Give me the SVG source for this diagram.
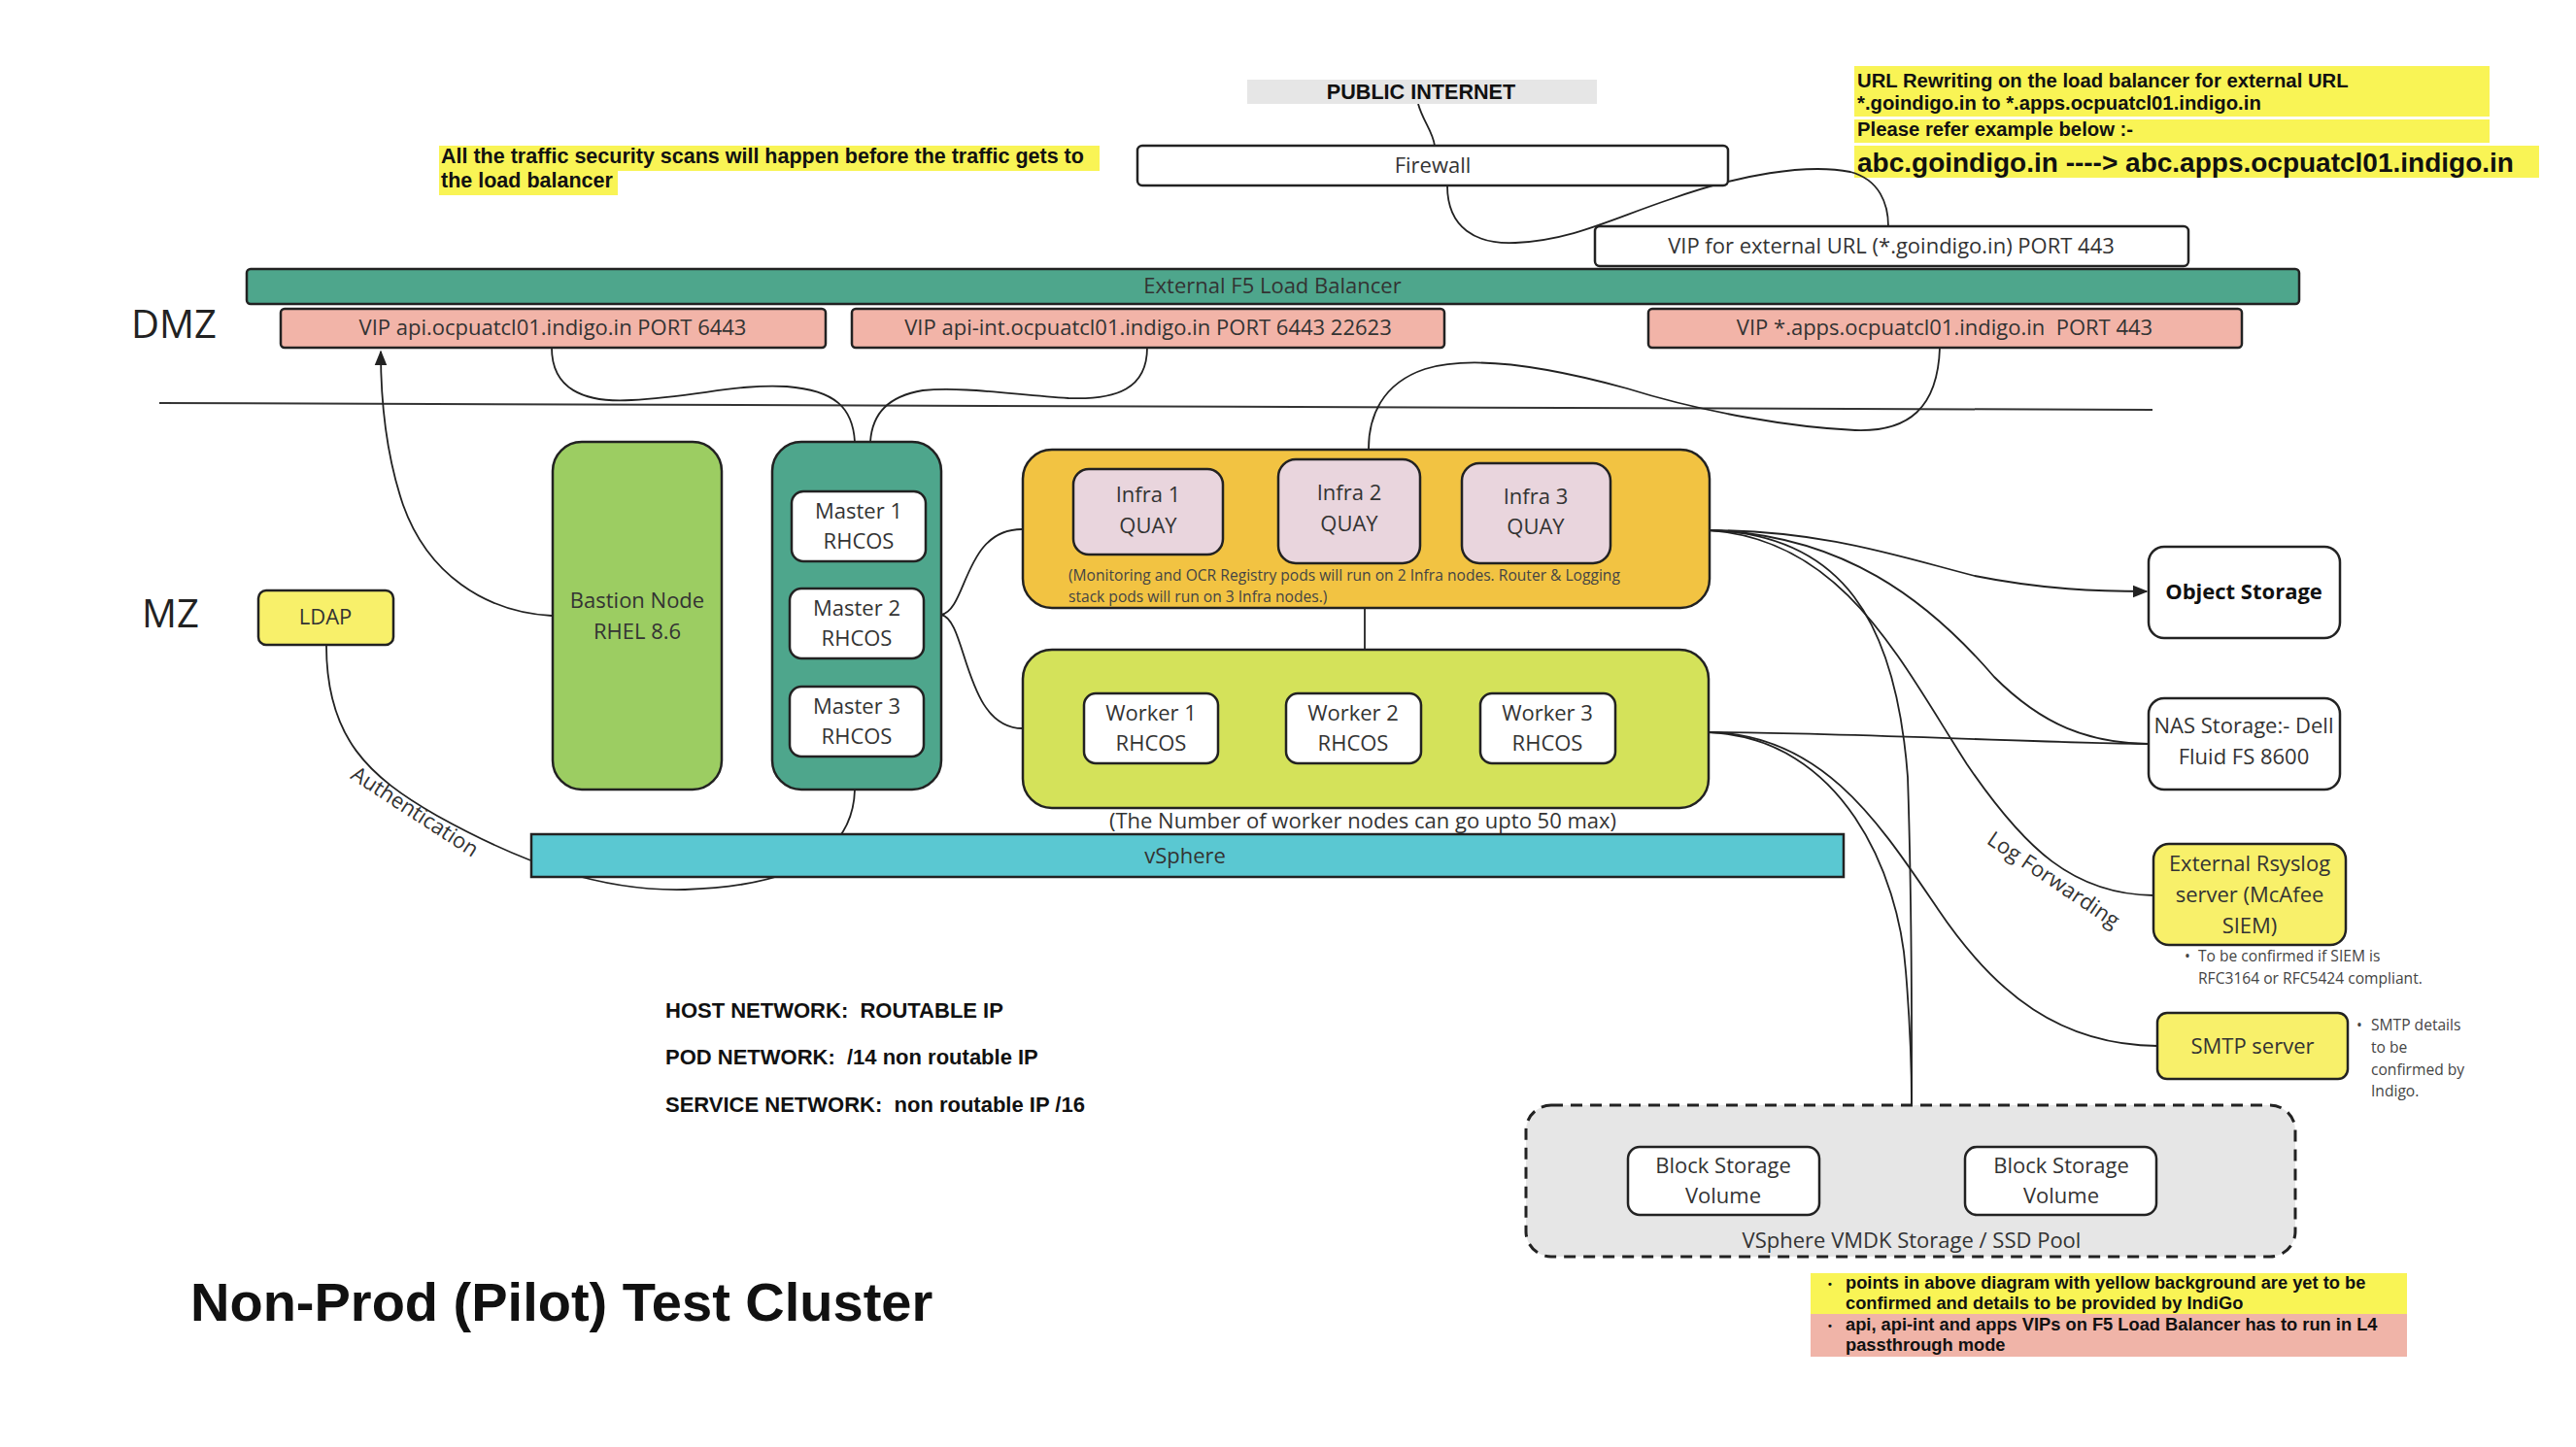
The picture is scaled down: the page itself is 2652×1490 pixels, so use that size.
<svg xmlns="http://www.w3.org/2000/svg" width="2652" height="1490" viewBox="0 0 2652 1490">
<style>
.bx{stroke:#222;stroke-width:2.5}
.lbl{font-family:'Open Sans','Liberation Sans',sans-serif;font-size:22px;fill:#333;text-anchor:middle}
.nt{font-family:'Liberation Sans',Arial,sans-serif;font-weight:bold;font-size:21px;fill:#111}
.sm{font-family:'Open Sans','Liberation Sans',sans-serif;font-size:15.6px;fill:#444}
.zone{font-family:'Open Sans','Liberation Sans',sans-serif;font-size:40px;fill:#222}
.conn{fill:none;stroke:#222;stroke-width:1.8}
.w{fill:#fff}
</style>
<defs>
<marker id="arr2" viewBox="0 0 10 10" refX="9" refY="5" markerWidth="16" markerHeight="16" markerUnits="userSpaceOnUse" orient="auto"><path d="M0,1 L10,5 L0,9 z" fill="#222"/></marker>
</defs>
<rect width="2652" height="1490" fill="#fff"/>

<!-- annotations -->
<g id="note-security">
<rect x="452" y="150" width="680" height="26" fill="#f9f455"/>
<rect x="452" y="176" width="184" height="25" fill="#f9f455"/>
<text class="nt" x="454" y="168" style="font-size:21.5px">All the traffic security scans will happen before the traffic gets to</text>
<text class="nt" x="454" y="193" style="font-size:21.5px">the load balancer</text>
</g>
<g id="note-url">
<rect x="1909" y="68" width="654" height="52" fill="#f9f455"/>
<rect x="1909" y="123" width="654" height="24" fill="#f9f455"/>
<rect x="1909" y="150" width="705" height="33" fill="#f9f455"/>
<text class="nt" x="1912" y="90" style="font-size:20.3px">URL Rewriting on the load balancer for external URL</text>
<text class="nt" x="1912" y="113" style="font-size:20.3px">*.goindigo.in to *.apps.ocpuatcl01.indigo.in</text>
<text class="nt" x="1912" y="140" style="font-size:20.3px">Please refer example below :-</text>
<text class="nt" x="1912" y="177" style="font-size:28px">abc.goindigo.in ----&gt; abc.apps.ocpuatcl01.indigo.in</text>
</g>
<text class="zone" x="135" y="348">DMZ</text>
<text class="zone" x="146" y="646">MZ</text>
<line x1="164" y1="415" x2="2216" y2="422" stroke="#333" stroke-width="2"/>

<!-- connectors -->
<g id="connectors">
<path class="conn" d="M1460 107 C1465 125,1475 135,1477 150"/>
<path class="conn" d="M1490 191 C1490 235,1520 252,1560 250 C1620 247,1660 225,1720 205 C1790 180,1860 168,1905 177 C1935 185,1944 210,1944 233"/>
<path class="conn" d="M568 358 C568 400,600 415,650 412 C720 408,760 395,810 398 C860 402,878 420,880 455"/>
<path class="conn" d="M1181 358 C1181 400,1150 412,1100 410 C1040 406,990 398,950 402 C915 408,898 425,896 455"/>
<path class="conn" d="M1997 358 C1995 420,1965 445,1910 443 C1845 440,1755 425,1675 400 C1595 378,1515 365,1467 380 C1422 395,1409 430,1409 462"/>
<path class="conn" d="M568 634 C498 630,440 590,415 520 C398 470,392 420,392 362" marker-end="url(#arr2)"/>
<path class="conn" d="M969 633 C996 628,992 545,1052 545"/>
<path class="conn" d="M969 633 C996 638,992 750,1053 750"/>
<path class="conn" d="M1405 625 L1405 668"/>
<path class="conn" d="M336 665 C336 760,380 800,450 840 C540 890,620 918,705 916 C800 913,878 888,880 813"/>
<path class="conn" d="M1759 546 C1877 546,1955 573,2033 593 C2103 607,2160 609,2210 609" marker-end="url(#arr2)"/>
<path class="conn" d="M1759 546 C1897 550,1985 618,2053 697 C2103 747,2150 765,2212 766"/>
<path class="conn" d="M1759 546 C1897 555,1955 678,2025 787 C2085 875,2135 921,2217 922"/>
<path class="conn" d="M1759 546 C1897 550,1952 640,1964 800 C1969 950,1968 1050,1968 1138"/>
<path class="conn" d="M1759 754 C1897 754,2095 765,2212 766"/>
<path class="conn" d="M1759 754 C1877 756,1935 848,1995 936 C2055 1025,2122 1076,2221 1077"/>
<path class="conn" d="M1759 754 C1897 760,1955 900,1962 1000 C1967 1060,1968 1100,1968 1138"/>
<text class="lbl" transform="translate(423,842) rotate(33)">Authentication</text>
<text class="lbl" transform="translate(2110,912) rotate(34)">Log Forwarding</text>
</g>

<!-- DMZ nodes -->
<g id="public-internet">
<rect x="1284" y="82" width="360" height="25" fill="#e6e6e6"/>
<text class="nt" x="1463" y="102" text-anchor="middle" style="font-size:21.6px">PUBLIC INTERNET</text>
</g>
<g id="firewall">
<rect class="bx w" x="1171" y="150" width="608" height="41" rx="5"/>
<text class="lbl" x="1475" y="178">Firewall</text>
</g>
<g id="vip-external">
<rect class="bx w" x="1642" y="233" width="611" height="41" rx="5"/>
<text class="lbl" x="1947" y="261">VIP for external URL (*.goindigo.in) PORT 443</text>
</g>
<g id="f5">
<rect class="bx" x="254" y="277" width="2113" height="36" rx="4" fill="#4ea68c"/>
<text class="lbl" x="1310" y="302" fill="#2b2b2b">External F5 Load Balancer</text>
</g>
<g id="vip-api">
<rect class="bx" x="289" y="318" width="561" height="40" rx="4" fill="#f2b4a8"/>
<text class="lbl" x="569" y="345">VIP api.ocpuatcl01.indigo.in PORT 6443</text>
</g>
<g id="vip-api-int">
<rect class="bx" x="877" y="318" width="610" height="40" rx="4" fill="#f2b4a8"/>
<text class="lbl" x="1182" y="345">VIP api-int.ocpuatcl01.indigo.in PORT 6443 22623</text>
</g>
<g id="vip-apps">
<rect class="bx" x="1697" y="318" width="611" height="40" rx="4" fill="#f2b4a8"/>
<text class="lbl" x="2002" y="345" xml:space="preserve">VIP *.apps.ocpuatcl01.indigo.in  PORT 443</text>
</g>

<!-- MZ nodes -->
<g id="ldap">
<rect class="bx" x="266" y="608" width="139" height="56" rx="8" fill="#f8f06a"/>
<text class="lbl" x="335" y="643">LDAP</text>
</g>
<g id="bastion">
<rect class="bx" x="569" y="455" width="174" height="358" rx="30" fill="#9ccd62"/>
<text class="lbl" x="656" y="626">Bastion Node</text>
<text class="lbl" x="656" y="658">RHEL 8.6</text>
</g>
<g id="masters">
<rect class="bx" x="795" y="455" width="174" height="358" rx="30" fill="#4ea68c"/>
<rect class="bx w" x="815" y="506" width="138" height="72" rx="12"/>
<text class="lbl" x="884" y="534">Master 1</text>
<text class="lbl" x="884" y="565">RHCOS</text>
<rect class="bx w" x="813" y="606" width="138" height="72" rx="12"/>
<text class="lbl" x="882" y="634">Master 2</text>
<text class="lbl" x="882" y="665">RHCOS</text>
<rect class="bx w" x="813" y="707" width="138" height="72" rx="12"/>
<text class="lbl" x="882" y="735">Master 3</text>
<text class="lbl" x="882" y="766">RHCOS</text>
</g>
<g id="infra">
<rect class="bx" x="1053" y="463" width="707" height="163" rx="30" fill="#f2c342"/>
<rect class="bx" x="1105" y="483" width="154" height="88" rx="16" fill="#e9d5dd"/>
<text class="lbl" x="1182" y="517">Infra 1</text>
<text class="lbl" x="1182" y="549">QUAY</text>
<rect class="bx" x="1316" y="473" width="146" height="107" rx="18" fill="#e9d5dd"/>
<text class="lbl" x="1389" y="515">Infra 2</text>
<text class="lbl" x="1389" y="547">QUAY</text>
<rect class="bx" x="1505" y="477" width="153" height="103" rx="18" fill="#e9d5dd"/>
<text class="lbl" x="1581" y="519">Infra 3</text>
<text class="lbl" x="1581" y="550">QUAY</text>
<text class="sm" x="1100" y="598">(Monitoring and OCR Registry pods will run on 2 Infra nodes. Router &amp; Logging</text>
<text class="sm" x="1100" y="620">stack pods will run on 3 Infra nodes.)</text>
</g>
<g id="workers">
<rect class="bx" x="1053" y="669" width="706" height="163" rx="30" fill="#d4e25a"/>
<rect class="bx w" x="1116" y="714" width="138" height="72" rx="12"/>
<text class="lbl" x="1185" y="742">Worker 1</text>
<text class="lbl" x="1185" y="773">RHCOS</text>
<rect class="bx w" x="1324" y="714" width="139" height="72" rx="12"/>
<text class="lbl" x="1393" y="742">Worker 2</text>
<text class="lbl" x="1393" y="773">RHCOS</text>
<rect class="bx w" x="1524" y="714" width="139" height="72" rx="12"/>
<text class="lbl" x="1593" y="742">Worker 3</text>
<text class="lbl" x="1593" y="773">RHCOS</text>
</g>
<text class="lbl" x="1403" y="853">(The Number of worker nodes can go upto 50 max)</text>
<g id="vsphere">
<rect class="bx" x="547" y="859" width="1351" height="44" fill="#5ac8d2"/>
<text class="lbl" x="1220" y="889">vSphere</text>
</g>

<!-- right side -->
<g id="object-storage">
<rect class="bx w" x="2212" y="563" width="197" height="94" rx="16"/>
<text class="lbl" x="2310" y="617" style="font-weight:bold;fill:#111">Object Storage</text>
</g>
<g id="nas">
<rect class="bx w" x="2212" y="719" width="197" height="94" rx="16"/>
<text class="lbl" x="2310" y="755">NAS Storage:- Dell</text>
<text class="lbl" x="2310" y="787">Fluid FS 8600</text>
</g>
<g id="rsyslog">
<rect class="bx" x="2217" y="869" width="198" height="104" rx="16" fill="#f8f06a"/>
<text class="lbl" x="2316" y="897">External Rsyslog</text>
<text class="lbl" x="2316" y="929">server (McAfee</text>
<text class="lbl" x="2316" y="961">SIEM)</text>
<text class="sm" x="2249" y="990">•</text>
<text class="sm" x="2263" y="990">To be confirmed if SIEM is</text>
<text class="sm" x="2263" y="1013">RFC3164 or RFC5424 compliant.</text>
</g>
<g id="smtp">
<rect class="bx" x="2221" y="1043" width="196" height="68" rx="10" fill="#f8f06a"/>
<text class="lbl" x="2319" y="1085">SMTP server</text>
<text class="sm" x="2426" y="1061">•</text>
<text class="sm" x="2441" y="1061">SMTP details</text>
<text class="sm" x="2441" y="1084">to be</text>
<text class="sm" x="2441" y="1107">confirmed by</text>
<text class="sm" x="2441" y="1129">Indigo.</text>
</g>
<g id="vmdk">
<rect x="1571" y="1138" width="792" height="156" rx="26" fill="#e6e6e6" stroke="#222" stroke-width="3" stroke-dasharray="12 8"/>
<rect class="bx w" x="1676" y="1181" width="197" height="70" rx="12"/>
<text class="lbl" x="1774" y="1208">Block Storage</text>
<text class="lbl" x="1774" y="1239">Volume</text>
<rect class="bx w" x="2023" y="1181" width="197" height="70" rx="12"/>
<text class="lbl" x="2122" y="1208">Block Storage</text>
<text class="lbl" x="2122" y="1239">Volume</text>
<text class="lbl" x="1968" y="1285">VSphere VMDK Storage / SSD Pool</text>
</g>

<g id="bottom-notes">
<rect x="1864" y="1311" width="614" height="42" fill="#f9f455"/>
<rect x="1864" y="1353" width="614" height="44" fill="#f0b4a8"/>
<g class="nt" style="font-size:18.3px">
<text x="1882" y="1326" style="font-size:11px">•</text>
<text x="1900" y="1327">points in above diagram with yellow background are yet to be</text>
<text x="1900" y="1348">confirmed and details to be provided by IndiGo</text>
<text x="1882" y="1369" style="font-size:11px">•</text>
<text x="1900" y="1370">api, api-int and apps VIPs on F5 Load Balancer has to run in L4</text>
<text x="1900" y="1391">passthrough mode</text>
</g>
</g>

<g id="network-notes" class="nt" style="font-size:22px">
<text x="685" y="1048" xml:space="preserve">HOST NETWORK:  ROUTABLE IP</text>
<text x="685" y="1096" xml:space="preserve">POD NETWORK:  /14 non routable IP</text>
<text x="685" y="1145" xml:space="preserve">SERVICE NETWORK:  non routable IP /16</text>
</g>
<text class="nt" x="196" y="1360" style="font-size:56px">Non-Prod (Pilot) Test Cluster</text>
</svg>
